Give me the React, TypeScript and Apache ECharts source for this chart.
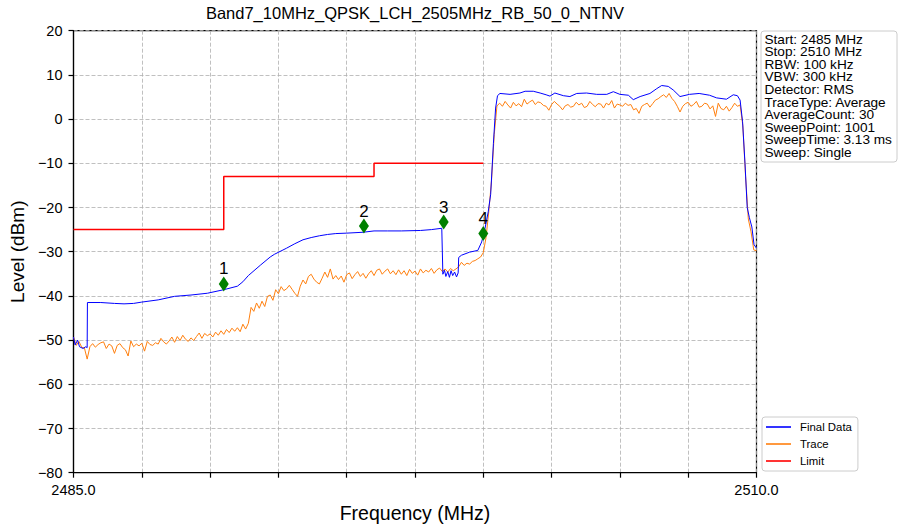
import React, { useEffect, useRef } from "react";
import * as echarts from "echarts";

const titleText = "Band7_10MHz_QPSK_LCH_2505MHz_RB_50_0_NTNV";
const xAxisName = "Frequency (MHz)";
const yAxisName = "Level (dBm)";
const xLabelValues = [2485, 2510];

// Trace (orange): one value every 0.1 MHz from 2485.0 to 2510.0
const traceStart = 2485.0;
const traceStep = 0.1;
const traceLevels = [
  -49.3, -51.2, -50.3, -51.6, -51.8, -54.3, -51.5, -50.8, -51.6, -51.0,
  -50.6, -50.4, -51.9, -50.9, -51.3, -53.0, -51.2, -50.8, -51.7, -52.2,
  -53.6, -50.2, -51.5, -50.9, -51.3, -50.7, -52.5, -50.3, -51.0, -51.2,
  -50.6, -50.9, -49.6, -50.4, -50.9, -50.2, -49.3, -50.5, -49.2, -50.1,
  -48.9, -49.8, -50.3, -49.5, -50.1, -49.2, -48.4, -49.6, -48.5, -49.0,
  -48.6, -49.3, -48.2, -48.9, -47.9, -48.7, -47.6, -48.3, -47.3, -48.0,
  -47.2, -48.1, -46.4, -47.5, -46.2, -42.6, -43.5, -41.6, -42.8, -41.2,
  -42.4, -40.1, -39.8, -41.0, -38.6, -39.5, -37.9, -38.8, -38.4, -37.6,
  -38.5, -39.4, -40.1, -37.8, -36.4, -37.3, -35.6, -35.1, -36.2, -36.9,
  -37.3, -36.0, -34.6, -35.8, -33.9, -36.2, -35.4, -36.3, -35.5, -36.9,
  -35.2, -34.8, -36.1, -35.2, -34.5, -35.6, -34.9, -36.0, -35.0, -34.3,
  -35.4, -34.2, -33.9, -35.1, -34.4, -33.9, -35.0, -34.3, -35.2, -34.1,
  -35.1, -34.3, -35.4, -34.0, -34.9, -34.4, -35.3, -33.9, -34.8, -34.2,
  -34.6, -33.8, -34.9, -34.1, -33.7, -34.5, -33.9, -34.6, -33.8, -34.3,
  -33.9, -33.4, -32.4, -33.1, -32.6, -32.8, -32.2, -32.0, -31.6, -31.2,
  -30.2, -26.8, -21.0, -14.0, -3.5, 3.0, 3.6, 2.9, 4.0, 3.2,
  2.5, 3.8, 3.0, 3.5, 2.8, 4.5, 3.4, 3.9, 4.3, 3.3,
  3.9, 3.7, 3.1, 2.9, 2.0, 3.3, 4.0, 3.4, 2.9, 2.1,
  3.0, 3.3, 2.7, 2.9, 3.8, 3.2, 3.6, 2.6, 2.9, 4.0,
  3.3, 2.8, 3.5, 3.4, 2.5, 3.6, 3.2, 4.2, 2.5, 3.4,
  3.2, 2.9, 3.6, 3.1, 3.3, 2.1, 2.4, 1.3, 2.9, 3.3,
  3.6, 2.7, 3.5, 4.3, 4.6, 5.1, 5.5, 4.9, 5.8, 4.7,
  4.0, 2.9, 1.6, 2.9, 3.5, 3.8, 2.9, 3.3, 4.0, 2.7,
  2.9, 3.6, 3.4, 2.3, 3.0, 0.6, 3.6, 2.4, 2.1, 2.9,
  1.8, 2.6, 3.6, 2.9, 3.2, -1.5, -13.0, -22.6, -25.5, -29.6,
  -29.8,
];

// Final Data (blue)
const finalFreq = [
  2485.0, 2485.06, 2485.15, 2485.22, 2485.35, 2485.45, 2485.5, 2485.51,
  2486.0, 2486.5, 2486.85, 2487.2, 2487.5, 2488.1, 2488.7, 2489.3, 2489.9,
  2490.5, 2491.0, 2491.2, 2491.4, 2491.85, 2492.2, 2492.35, 2492.8, 2493.1,
  2493.4, 2493.7, 2494.0, 2494.3, 2494.6, 2495.0, 2495.6, 2496.0, 2496.5,
  2497.0, 2497.7, 2498.1, 2498.48, 2498.52, 2498.58, 2498.63, 2498.7, 2498.76,
  2498.82, 2498.88, 2498.95, 2499.02, 2499.08, 2499.1, 2499.2, 2499.5, 2499.8,
  2499.94, 2500.06, 2500.18, 2500.27, 2500.37, 2500.45, 2500.52, 2500.61,
  2500.98, 2501.34, 2501.53, 2501.83, 2502.08, 2502.3, 2502.44, 2502.62,
  2502.93, 2503.17, 2503.42, 2503.78, 2504.15, 2504.52, 2504.76, 2505.0,
  2505.31, 2505.49, 2505.74, 2506.1, 2506.35, 2506.53, 2506.77, 2506.95,
  2507.2, 2507.55, 2507.9, 2508.28, 2508.54, 2508.9, 2509.15, 2509.3, 2509.4,
  2509.49, 2509.58, 2509.66, 2509.74, 2509.83, 2509.91, 2510.0,
];
const finalLevel = [
  -49.3, -51.1, -50.0, -51.5, -51.9, -51.5, -51.7, -41.5,
  -41.5, -41.7, -41.8, -41.7, -41.4, -40.9, -40.1, -39.8, -39.4,
  -38.6, -37.8, -36.8, -35.4, -33.0, -31.2, -30.6, -29.2, -28.2,
  -27.3, -26.8, -26.4, -26.1, -25.9, -25.8, -25.6, -25.3, -25.3,
  -25.3, -25.2, -25.0, -24.7, -35.1, -34.2, -35.6, -34.5, -35.8,
  -34.3, -35.4, -34.6, -35.7, -34.8, -31.3, -30.8, -30.1, -29.7,
  -27.8, -24.8, -21.0, -17.0, -5.5, 2.5, 5.3, 5.8,
  5.6, 5.9, 6.3, 6.3, 5.9, 5.5, 5.2, 5.9,
  5.3, 5.1, 5.8, 5.9, 5.6, 5.6, 6.2, 5.6,
  5.4, 4.4, 5.1, 5.8, 6.9, 7.6, 7.4, 6.6,
  5.1, 5.6, 5.8, 5.4, 4.8, 4.5, 5.5, 5.3, 4.3,
  -0.6, -10.1, -20.0, -22.3, -24.4, -28.4, -29.2,
];

// Limit (red)
const limitFreq = [2485, 2490.5, 2490.5, 2496, 2496, 2500];
const limitLevel = [-25, -25, -13, -13, -10, -10];

// Markers
const markerNames = ["1", "2", "3", "4"];
const markerFreq = [2490.5, 2495.63, 2498.55, 2500.0];
const markerLevel = [-37.3, -24.2, -23.3, -25.9];

const legendNames = ["Final Data", "Trace", "Limit"];

const infoLines = [
  "Start: 2485 MHz",
  "Stop: 2510 MHz",
  "RBW: 100 kHz",
  "VBW: 300 kHz",
  "Detector: RMS",
  "TraceType: Average",
  "AverageCount: 30",
  "SweepPoint: 1001",
  "SweepTime: 3.13 ms",
  "Sweep: Single",
];

const FONT = '"Liberation Sans", Arial, Helvetica, sans-serif';

export default function App() {
  const ref = useRef<HTMLDivElement>(null);

  useEffect(() => {
    document.body.style.margin = "0";
    const el = ref.current;
    if (!el) return;
    const chart = echarts.init(el, null, { renderer: "svg" });

    const traceData = traceLevels.map((v, i) => [
      Number((traceStart + i * traceStep).toFixed(2)),
      v,
    ]);
    const finalData = finalFreq.map((f, i) => [f, finalLevel[i]]);
    const limitData = limitFreq.map((f, i) => [f, limitLevel[i]]);
    const markerData = markerFreq.map((f, i) => ({
      name: markerNames[i],
      value: [f, markerLevel[i]],
    }));

    const minus = (s: string) => s.replace("-", "\u2212");

    const infoTexts = infoLines.map((line, i) => ({
      type: "text",
      x: 3.5,
      y: 2.3 + i * 12.6,
      scaleX: 1.1,
      style: {
        text: line,
        fontFamily: FONT,
        fontSize: 12.4,
        fill: "#000",
        align: "left",
        verticalAlign: "top",
      },
    }));

    const option: any = {
      animation: false,
      backgroundColor: "#ffffff",
      textStyle: { fontFamily: FONT },
      title: {
        text: titleText,
        left: 415,
        top: 4,
        textAlign: "center",
        padding: 0,
        textStyle: {
          fontFamily: FONT,
          fontSize: 16.5,
          fontWeight: "normal",
          color: "#000",
        },
      },
      grid: {
        left: 73.5,
        right: 142.5,
        top: 30.7,
        bottom: 56.3,
        show: true,
        borderColor: "#000",
        borderWidth: 1.2,
        backgroundColor: "transparent",
      },
      legend: {
        data: legendNames,
        orient: "vertical",
        left: 762,
        top: 417,
        icon: "rect",
        itemWidth: 25,
        itemHeight: 1.6,
        itemGap: 5,
        padding: [4, 6, 4, 4],
        borderColor: "#cccccc",
        borderWidth: 1,
        borderRadius: 3,
        backgroundColor: "#ffffff",
        selectedMode: false,
        textStyle: {
          fontFamily: FONT,
          fontSize: 11.4,
          lineHeight: 12,
          color: "#000",
          padding: [0, 0, 0, 4],
        },
      },
      xAxis: {
        type: "value",
        min: 2485,
        max: 2510,
        interval: 2.5,
        name: xAxisName,
        nameLocation: "middle",
        nameGap: 29,
        nameTextStyle: { fontFamily: FONT, fontSize: 19.5, color: "#000" },
        axisLine: { show: true, onZero: false, lineStyle: { color: "#000", width: 1.2 } },
        axisTick: { show: true, inside: false, length: 5, lineStyle: { color: "#000", width: 1.2 } },
        axisLabel: {
          show: true,
          margin: 10,
          fontFamily: FONT,
          fontSize: 14.5,
          color: "#000",
          showMinLabel: true,
          showMaxLabel: true,
          formatter: (v: number) =>
            xLabelValues.some((x) => Math.abs(x - v) < 1e-6) ? v.toFixed(1) : "",
        },
        splitLine: {
          show: true,
          lineStyle: { color: "#b0b0b0", width: 0.8, type: [4, 2] },
        },
      },
      yAxis: {
        type: "value",
        min: -80,
        max: 20,
        interval: 10,
        name: yAxisName,
        nameLocation: "middle",
        nameGap: 38,
        nameTextStyle: { fontFamily: FONT, fontSize: 19, color: "#000" },
        axisLine: { show: true, onZero: false, lineStyle: { color: "#000", width: 1.2 } },
        axisTick: { show: true, inside: false, length: 5, lineStyle: { color: "#000", width: 1.2 } },
        axisLabel: {
          margin: 11,
          fontFamily: FONT,
          fontSize: 14.5,
          color: "#000",
          formatter: (v: number) => minus(String(v)),
        },
        splitLine: {
          show: true,
          lineStyle: { color: "#b0b0b0", width: 0.8, type: [4, 2] },
        },
      },
      series: [
        {
          name: "Trace",
          type: "line",
          data: traceData,
          showSymbol: false,
          symbol: "none",
          color: "#ff7f0e",
          lineStyle: { color: "#ff7f0e", width: 1 },
          z: 2,
        },
        {
          name: "Final Data",
          type: "line",
          data: finalData,
          showSymbol: false,
          symbol: "none",
          color: "#0000ff",
          lineStyle: { color: "#0000ff", width: 1 },
          z: 3,
        },
        {
          name: "Limit",
          type: "line",
          data: limitData,
          showSymbol: false,
          symbol: "none",
          color: "#ff0000",
          lineStyle: { color: "#ff0000", width: 1.5 },
          z: 4,
        },
        {
          name: "Markers",
          type: "scatter",
          data: markerData,
          symbol: "diamond",
          symbolSize: [10, 15],
          itemStyle: { color: "#008000", opacity: 1 },
          z: 5,
          label: {
            show: true,
            position: "top",
            distance: -1,
            formatter: (p: any) => p.name,
            fontFamily: FONT,
            fontSize: 17,
            color: "#000",
          },
        },
      ],
      graphic: [
        {
          type: "group",
          left: 760.5,
          top: 30.5,
          children: [
            {
              type: "rect",
              shape: { x: 0, y: 0, width: 136, height: 131, r: 3 },
              style: { fill: "#ffffff", stroke: "#cccccc", lineWidth: 1 },
            },
            ...infoTexts,
          ],
        },
      ],
    };

    chart.setOption(option);
    return () => chart.dispose();
  }, []);

  return <div ref={ref} style={{ width: 899, height: 529 }} />;
}
